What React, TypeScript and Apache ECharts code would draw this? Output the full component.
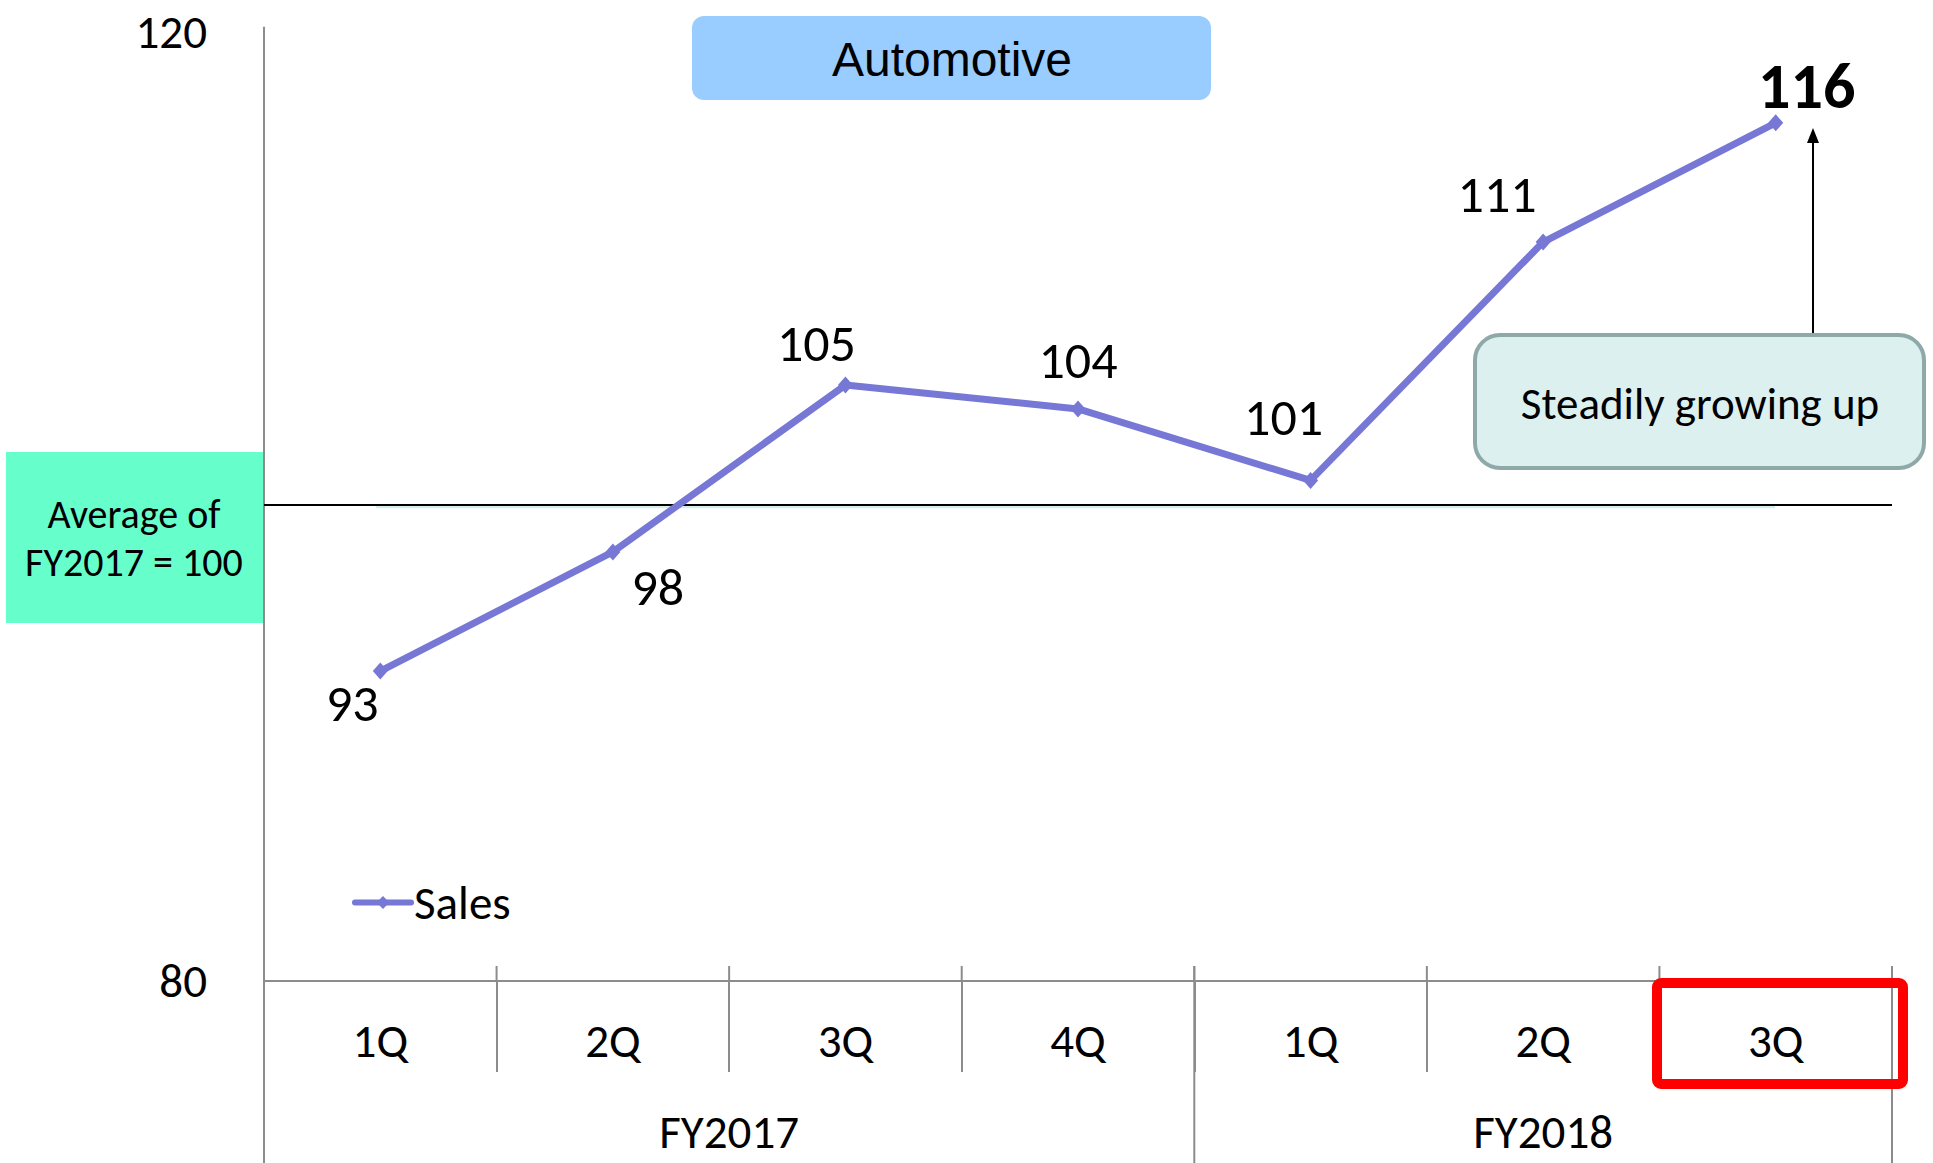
import React, { useEffect, useRef } from 'react';
import * as echarts from 'echarts';

const quarters = ['1Q', '2Q', '3Q', '4Q', '1Q', '2Q', '3Q'];
const fiscalYears = ['FY2017', 'FY2018'];
const fiscalYearSpans = [4, 3];
const sales = [93, 98, 105, 104, 101, 111, 116];
const averageLevel = 100;
const yMin = 80;
const yMax = 120;
const yInterval = 40;
const seriesName = 'Sales';
const titleText = 'Automotive';
const averageNote = 'Average of\nFY2017 = 100';
const calloutText = 'Steadily growing up';

// label offsets (pixels) relative to each point, styling only
const labelOffsets: [number, number][] = [
  [-28, 32],
  [45, 35],
  [-29, -42],
  [0, -49],
  [-27, -63],
  [-46, -48],
  [31, -37],
];

const FONT = 'Carlito, Lato, sans-serif';
const AXIS_GRAY = '#8c8c8c';
const LINE_COLOR = '#7777D6';

export default function App() {
  const ref = useRef<HTMLDivElement>(null);
  useEffect(() => {
    document.body.style.margin = '0';
    const chart = echarts.init(ref.current!, null, { renderer: 'svg' });
    const last = sales.length - 1;
    chart.setOption({
      animation: false,
      grid: { left: 264, right: 41, top: 27, bottom: 182, containLabel: false },
      legend: {
        data: [seriesName],
        left: 347,
        top: 874,
        itemWidth: 56,
        itemHeight: 16,
        itemGap: 4,
        lineStyle: { width: 6, cap: 'round' },
        textStyle: { fontSize: 47, color: '#000', fontFamily: FONT, padding: [0, 0, 0, -2] },
      },
      xAxis: {
        type: 'category',
        data: quarters,
        boundaryGap: true,
        axisLine: { lineStyle: { color: AXIS_GRAY, width: 2 } },
        axisTick: { show: true, length: 91, lineStyle: { color: AXIS_GRAY, width: 2 } },
        axisLabel: { color: '#000', fontSize: 47, fontFamily: FONT, margin: 36 },
        splitLine: { show: false },
      },
      yAxis: {
        type: 'value',
        min: yMin,
        max: yMax,
        interval: yInterval,
        axisLine: { show: true, lineStyle: { color: AXIS_GRAY, width: 2 } },
        axisTick: { show: false },
        splitLine: { show: false },
        axisLabel: {
          color: '#000',
          fontSize: 47,
          lineHeight: 44,
          fontFamily: FONT,
          margin: 57,
          formatter: (v: number) => (v === yMax ? `{top|${v}}` : `${v}`),
          rich: {
            top: { fontSize: 47, lineHeight: 44, fontFamily: FONT, color: '#000', padding: [8, 0, 0, 0] },
          },
        },
      },
      series: [
        {
          name: seriesName,
          type: 'line',
          data: sales.map((v, i) => ({
            value: v,
            label:
              i === last
                ? { offset: labelOffsets[i], fontWeight: 'bold', fontSize: 64 }
                : { offset: labelOffsets[i] },
          })),
          symbol: 'diamond',
          symbolSize: [15, 17],
          lineStyle: { color: LINE_COLOR, width: 7 },
          itemStyle: { color: LINE_COLOR },
          label: {
            show: true,
            position: 'inside',
            color: '#000',
            fontSize: 52,
            fontFamily: FONT,
          },
          markLine: {
            silent: true,
            symbol: 'none',
            z: 1,
            data: [{ yAxis: averageLevel }],
            lineStyle: { color: '#000', width: 2, type: 'solid' },
            label: { show: false },
          },
        },
      ],
    });

    const c0 = chart.convertToPixel({ xAxisIndex: 0 }, 0) as number;
    const c1 = chart.convertToPixel({ xAxisIndex: 0 }, 1) as number;
    const band = c1 - c0;
    const left = c0 - band / 2;
    const axisY = chart.convertToPixel({ yAxisIndex: 0 }, yMin) as number;
    const avgY = chart.convertToPixel({ yAxisIndex: 0 }, averageLevel) as number;
    const H = 1163;

    const graphics: any[] = [];
    // short tick parts above the axis
    for (let b = 1; b <= quarters.length; b++) {
      const x = left + b * band;
      graphics.push({
        type: 'line',
        shape: { x1: x, y1: axisY - 15, x2: x, y2: axisY },
        style: { stroke: AXIS_GRAY, lineWidth: 2 },
        silent: true,
      });
    }
    // group dividers and labels
    let start = 0;
    const bounds = [0];
    fiscalYears.forEach((fy, k) => {
      const span = fiscalYearSpans[k];
      graphics.push({
        type: 'text',
        style: {
          text: fy,
          x: left + (start + span / 2) * band,
          y: 1132,
          fill: '#000',
          fontSize: 47,
          fontFamily: FONT,
          align: 'center',
          verticalAlign: 'middle',
        },
        silent: true,
      });
      start += span;
      bounds.push(start);
    });
    bounds.forEach((b) => {
      const x = left + b * band;
      graphics.push({
        type: 'line',
        shape: { x1: x, y1: b === 0 ? axisY : axisY - 15, x2: x, y2: H },
        style: { stroke: AXIS_GRAY, lineWidth: 2 },
        silent: true,
      });
    });
    // faint line under the average line
    graphics.push({
      type: 'line',
      z: -1,
      shape: { x1: 376, y1: avgY + 2, x2: 1775, y2: avgY + 2 },
      style: { stroke: '#d4eeee', lineWidth: 4 },
      silent: true,
    });
    // Automotive title box
    graphics.push({
      type: 'rect',
      shape: { x: 692, y: 16, width: 519, height: 84, r: 12 },
      style: { fill: '#99CCFF' },
      silent: true,
    });
    graphics.push({
      type: 'text',
      style: {
        text: titleText,
        x: 952,
        y: 59,
        fill: '#000',
        fontSize: 48,
        fontFamily: 'Liberation Sans, Arial, sans-serif',
        align: 'center',
        verticalAlign: 'middle',
      },
      silent: true,
    });
    // Average note box
    graphics.push({
      type: 'rect',
      shape: { x: 6, y: 452, width: 257, height: 171 },
      style: { fill: '#66FFCC' },
      silent: true,
    });
    graphics.push({
      type: 'text',
      style: {
        text: averageNote,
        x: 134,
        y: 538,
        fill: '#000',
        fontSize: 40,
        lineHeight: 48,
        fontFamily: FONT,
        align: 'center',
        verticalAlign: 'middle',
      },
      silent: true,
    });
    // callout box
    graphics.push({
      type: 'rect',
      shape: { x: 1475, y: 335, width: 449, height: 133, r: 25 },
      style: { fill: '#DDF0F0', stroke: '#8FA9A9', lineWidth: 4 },
      silent: true,
    });
    graphics.push({
      type: 'text',
      style: {
        text: calloutText,
        x: 1700,
        y: 403,
        fill: '#000',
        fontSize: 45,
        fontFamily: FONT,
        align: 'center',
        verticalAlign: 'middle',
      },
      silent: true,
    });
    // arrow
    graphics.push({
      type: 'line',
      shape: { x1: 1813, y1: 333, x2: 1813, y2: 140 },
      style: { stroke: '#000', lineWidth: 2 },
      silent: true,
    });
    graphics.push({
      type: 'polygon',
      shape: { points: [[1813, 128], [1807, 143], [1819, 143]] },
      style: { fill: '#000' },
      silent: true,
    });
    // red highlight
    graphics.push({
      type: 'rect',
      z: 100,
      shape: { x: 1657, y: 983, width: 246, height: 101, r: 4 },
      style: { fill: 'none', stroke: '#FF0000', lineWidth: 10 },
      silent: true,
    });

    chart.setOption({ graphic: graphics });
    return () => chart.dispose();
  }, []);
  return <div ref={ref} style={{ width: 1933, height: 1163 }} />;
}
